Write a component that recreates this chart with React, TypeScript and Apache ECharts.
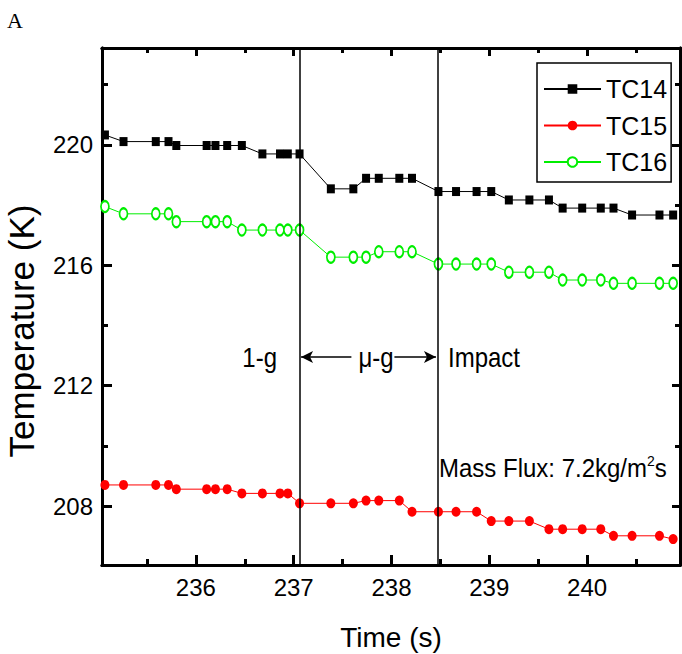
import React, { useEffect, useRef } from 'react';
import * as echarts from 'echarts';

// ---- data ----
const TIME = [
  235.07, 235.26, 235.59, 235.72, 235.8, 236.11, 236.2, 236.32, 236.47, 236.68, 236.86,
  236.94, 237.06, 237.38, 237.61, 237.74, 237.87, 238.08, 238.21, 238.48, 238.66, 238.87,
  239.02, 239.2, 239.41, 239.61, 239.75, 239.95, 240.14, 240.27, 240.46, 240.74, 240.88,
];
const TC14 = [
  220.33, 220.11, 220.11, 220.11, 219.98, 219.98, 219.98, 219.98, 219.98, 219.7, 219.7,
  219.7, 219.7, 218.54, 218.54, 218.89, 218.89, 218.89, 218.89, 218.45, 218.45, 218.45,
  218.45, 218.17, 218.17, 218.17, 217.9, 217.9, 217.9, 217.9, 217.67, 217.67, 217.67,
];
const TC15 = [
  208.7, 208.7, 208.7, 208.7, 208.56, 208.56, 208.56, 208.56, 208.42, 208.42, 208.42,
  208.42, 208.09, 208.09, 208.09, 208.18, 208.18, 208.18, 207.81, 207.81, 207.81, 207.81,
  207.5, 207.5, 207.5, 207.23, 207.23, 207.23, 207.23, 207.01, 207.01, 207.01, 206.9,
];
const TC16 = [
  217.95, 217.71, 217.71, 217.71, 217.45, 217.45, 217.45, 217.45, 217.17, 217.17, 217.17,
  217.17, 217.17, 216.27, 216.27, 216.27, 216.45, 216.45, 216.45, 216.04, 216.04, 216.04,
  216.04, 215.77, 215.77, 215.77, 215.51, 215.51, 215.51, 215.4, 215.4, 215.4, 215.4,
];
const X_MAJOR = [236, 237, 238, 239, 240];
const X_MINOR = [235.5, 236.5, 237.5, 238.5, 239.5, 240.5];
const Y_MAJOR = [208, 212, 216, 220];
const Y_MINOR = [210, 214, 218, 222];
const X_RANGE = [235.04, 240.95];
const Y_RANGE = [206.04, 223.22];
const PHASE_LINES = [237.06, 238.47];
const ARROW_T = 212.95;
const ARROW_LEFT = [237.59, 237.075];
const ARROW_RIGHT = [238.03, 238.455];

const SANS = '"Liberation Sans", Arial, sans-serif';

const pairs = (ys: number[]) => TIME.map((t, i) => [t, ys[i]]);

function xAxisDef(position: 'top' | 'bottom', values: number[], len: number, labels: boolean, name?: string) {
  return {
    type: 'value',
    position,
    min: X_RANGE[0],
    max: X_RANGE[1],
    name,
    nameLocation: 'middle',
    nameGap: 58,
    nameTextStyle: { fontFamily: SANS, fontSize: 28, color: '#000' },
    axisLine: { show: true, onZero: false, lineStyle: { color: '#000', width: 3 } },
    axisTick: { show: true, inside: true, length: len, customValues: values, lineStyle: { color: '#000', width: 3 } },
    axisLabel: labels
      ? { show: true, customValues: values, margin: 10, fontFamily: SANS, fontSize: 24, color: '#000' }
      : { show: false },
    splitLine: { show: false },
  };
}

function yAxisDef(position: 'left' | 'right', values: number[], len: number, labels: boolean) {
  return {
    type: 'value',
    position,
    min: Y_RANGE[0],
    max: Y_RANGE[1],
    axisLine: { show: true, onZero: false, lineStyle: { color: '#000', width: 3 } },
    axisTick: { show: true, inside: true, length: len, customValues: values, lineStyle: { color: '#000', width: 3 } },
    axisLabel: labels
      ? { show: true, customValues: values, margin: 9, fontFamily: SANS, fontSize: 24, color: '#000' }
      : { show: false },
    splitLine: { show: false },
  };
}

export default function App() {
  const ref = useRef<HTMLDivElement>(null);
  useEffect(() => {
    if (!ref.current) return;
    const chart = echarts.init(ref.current, null, { renderer: 'svg' });
    chart.setOption({
      animation: false,
      backgroundColor: '#fff',
      grid: { left: 102, right: 2, top: 48, bottom: 89, outerBoundsMode: 'none', containLabel: false },
      xAxis: [
        xAxisDef('bottom', X_MAJOR, 10, true, 'Time (s)'),
        xAxisDef('bottom', X_MINOR, 6, false),
        xAxisDef('top', X_MAJOR, 8, false),
        xAxisDef('top', X_MINOR, 5, false),
      ],
      yAxis: [
        yAxisDef('left', Y_MAJOR, 10, true),
        yAxisDef('left', Y_MINOR, 6, false),
        yAxisDef('right', Y_MAJOR, 8, false),
        yAxisDef('right', Y_MINOR, 5, false),
      ],
      legend: {
        orient: 'vertical',
        left: 537,
        top: 63,
        data: ['TC14', 'TC15', 'TC16'],
        itemWidth: 57,
        itemHeight: 12,
        itemGap: 6.5,
        padding: [11, 4, 5, 6],
        borderColor: '#000',
        borderWidth: 1.5,
        textStyle: { fontFamily: SANS, fontSize: 25, lineHeight: 30, color: '#000' },
      },
      series: [
        {
          name: 'TC14',
          type: 'line',
          data: pairs(TC14),
          symbol: 'rect',
          symbolSize: [8, 9],
          itemStyle: { color: '#000' },
          lineStyle: { color: '#000', width: 1 },
          z: 3,
          markLine: {
            silent: true,
            symbol: 'none',
            label: { show: false },
            lineStyle: { color: '#000', width: 1.5, type: 'solid' },
            data: [
              ...PHASE_LINES.map((v) => ({ xAxis: v })),
              [
                { coord: [ARROW_LEFT[0], ARROW_T], symbol: 'none' },
                { coord: [ARROW_LEFT[1], ARROW_T], symbol: 'arrow', symbolSize: [9, 12] },
              ],
              [
                { coord: [ARROW_RIGHT[0], ARROW_T], symbol: 'none' },
                { coord: [ARROW_RIGHT[1], ARROW_T], symbol: 'arrow', symbolSize: [9, 12] },
              ],
            ],
          },
        },
        {
          name: 'TC15',
          type: 'line',
          data: pairs(TC15),
          symbol: 'circle',
          symbolSize: [9, 10],
          itemStyle: { color: '#ff0000' },
          lineStyle: { color: '#ff0000', width: 1 },
          z: 3,
        },
        {
          name: 'TC16',
          type: 'line',
          data: pairs(TC16),
          symbol: 'emptyCircle',
          symbolSize: [8, 11],
          itemStyle: { color: '#00ee00', borderWidth: 1.2 },
          lineStyle: { color: '#00ee00', width: 1 },
          z: 3,
        },
      ],
      graphic: [
        { type: 'text', left: 7, top: 9, style: { text: 'A', font: '22px "Liberation Serif", serif', fill: '#000' } },
        {
          type: 'text', x: 21, y: 331, rotation: Math.PI / 2,
          style: { text: 'Temperature (K)', fontFamily: SANS, fontSize: 35, fill: '#000', textAlign: 'center', textVerticalAlign: 'middle' },
        },
        {
          type: 'text', x: 277, y: 357, scaleY: 1.15,
          style: { text: '1-g', fontFamily: SANS, fontSize: 24, fill: '#000', textAlign: 'right', textVerticalAlign: 'middle' },
        },
        {
          type: 'text', x: 376, y: 357, scaleY: 1.15,
          style: { text: 'μ-g', fontFamily: SANS, fontSize: 24, fill: '#000', textAlign: 'center', textVerticalAlign: 'middle' },
        },
        {
          type: 'text', x: 448, y: 357, scaleY: 1.15,
          style: { text: 'Impact', fontFamily: SANS, fontSize: 24, fill: '#000', textAlign: 'left', textVerticalAlign: 'middle' },
        },
        {
          type: 'text', x: 439, y: 468, scaleY: 1.08,
          style: {
            text: '{a|Mass Flux: 7.2kg/m}{s|2}{a|s}',
            textAlign: 'left',
            textVerticalAlign: 'middle',
            rich: {
              a: { fontFamily: SANS, fontSize: 24, lineHeight: 28, color: '#000' },
              s: { fontFamily: SANS, fontSize: 14, lineHeight: 14, verticalAlign: 'top', color: '#000' },
            },
          },
        },
      ],
    });
    return () => chart.dispose();
  }, []);
  return <div ref={ref} style={{ width: 682, height: 654, position: 'absolute', left: 0, top: 0 }} />;
}
